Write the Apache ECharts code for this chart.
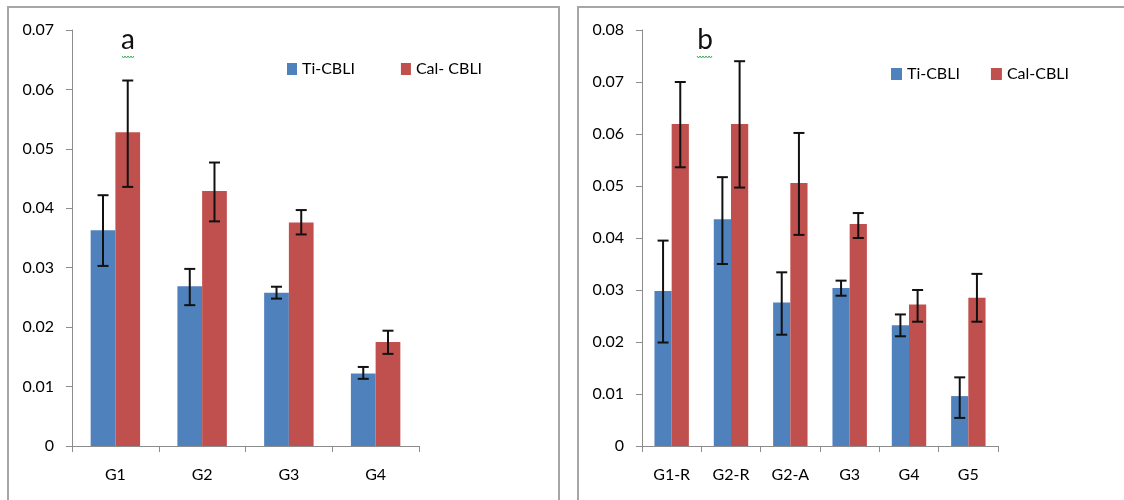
<!DOCTYPE html>
<html>
<head>
<meta charset="utf-8">
<script src="https://cdn.jsdelivr.net/npm/echarts@6/dist/echarts.min.js"></script>
<style>
html,body{margin:0;padding:0;background:#fff;}
#chart{width:1124px;height:500px;}
</style>
</head>
<body>
<div id="chart"></div>
<script>
// ---- Panel a ----
const catsA = ['G1', 'G2', 'G3', 'G4'];
const tiA = [0.0363, 0.0269, 0.0258, 0.0122];
const calA = [0.0528, 0.0429, 0.0376, 0.0175];
const tiA_hi = [0.0422, 0.0298, 0.0268, 0.0133];
const tiA_lo = [0.0303, 0.0237, 0.0248, 0.0113];
const calA_hi = [0.0615, 0.0477, 0.0397, 0.0194];
const calA_lo = [0.0436, 0.0378, 0.0356, 0.0155];
const yTicksA = [0, 0.01, 0.02, 0.03, 0.04, 0.05, 0.06, 0.07];

// ---- Panel b ----
const catsB = ['G1-R', 'G2-R', 'G2-A', 'G3', 'G4', 'G5'];
const tiB = [0.0298, 0.0436, 0.0276, 0.0304, 0.0232, 0.0096];
const calB = [0.0619, 0.0619, 0.0506, 0.0427, 0.0272, 0.0285];
const tiB_hi = [0.0395, 0.0517, 0.0334, 0.0318, 0.0253, 0.0132];
const tiB_lo = [0.0199, 0.0350, 0.0214, 0.0289, 0.0211, 0.0054];
const calB_hi = [0.0700, 0.0740, 0.0602, 0.0448, 0.0300, 0.0331];
const calB_lo = [0.0536, 0.0497, 0.0406, 0.0400, 0.0239, 0.0239];
const yTicksB = [0, 0.01, 0.02, 0.03, 0.04, 0.05, 0.06, 0.07, 0.08];

const legendA = ['Ti-CBLI', 'Cal- CBLI'];
const legendB = ['Ti-CBLI', 'Cal-CBLI'];

const BLUE = '#4F81BD', RED = '#C0504D';
const FONT = 'Lato, "Liberation Sans", sans-serif';
const TXT = '#000';

const chart = echarts.init(document.getElementById('chart'), null, {renderer: 'canvas'});

function yAxisDef(gridIndex, ticks) {
  return {
    type: 'value', gridIndex: gridIndex,
    min: ticks[0], max: ticks[ticks.length - 1], interval: 0.01,
    splitLine: {show: false},
    axisLine: {show: true, lineStyle: {color: '#8c8c8c', width: 1}},
    axisTick: {show: true, length: 6, lineStyle: {color: '#8c8c8c'}},
    axisLabel: {
      fontFamily: FONT, fontSize: 16, color: TXT, margin: 18,
      formatter: v => v === 0 ? '0' : (Math.round(v * 100) / 100).toFixed(2)
    }
  };
}
function xAxisDef(gridIndex, cats) {
  return {
    type: 'category', gridIndex: gridIndex, data: cats,
    axisLine: {show: true, lineStyle: {color: '#8c8c8c', width: 1}},
    axisTick: {show: true, length: 6, alignWithLabel: false, lineStyle: {color: '#8c8c8c'}},
    axisLabel: {fontFamily: FONT, fontSize: 16, color: TXT, margin: 21}
  };
}

function errSeries(name, axisIdx, cats, hi, lo, side, gap) {
  return {
    type: 'custom', name: name, xAxisIndex: axisIdx, yAxisIndex: axisIdx,
    z: 10, silent: true,
    data: cats.map((c, i) => [i, hi[i], lo[i]]),
    encode: {x: 0, y: [1, 2]},
    renderItem: function (params, api) {
      const i = api.value(0);
      const pHi = api.coord([i, api.value(1)]);
      const pLo = api.coord([i, api.value(2)]);
      const band = api.size([1, 0])[0];
      const bw = band * (1 - gap) / 2;
      const x = pHi[0] + side * bw / 2;
      const cap = 5.5;
      const st = {stroke: '#111', lineWidth: 2};
      return {
        type: 'group', children: [
          {type: 'line', shape: {x1: x, y1: pHi[1], x2: x, y2: pLo[1]}, style: st},
          {type: 'line', shape: {x1: x - cap, y1: pHi[1], x2: x + cap, y2: pHi[1]}, style: st},
          {type: 'line', shape: {x1: x - cap, y1: pLo[1], x2: x + cap, y2: pLo[1]}, style: st}
        ]
      };
    }
  };
}

const GAP_A = 0.43, GAP_B = 0.42;

function wavy(x0, x1, y) {
  const pts = [];
  let up = true;
  for (let x = x0; x <= x1; x += 1.5) { pts.push([x, up ? y - 1 : y + 1]); up = !up; }
  return {type: 'polyline', shape: {points: pts}, style: {stroke: '#3cb043', lineWidth: 1, fill: null}, silent: true};
}

const option = {
  backgroundColor: '#fff',
  animation: false,
  grid: [
    {left: 72, right: 705, top: 30, bottom: 54},
    {left: 642, right: 126, top: 30, bottom: 54}
  ],
  legend: [
    {data: legendA, left: 287, top: 61, padding: 0, itemWidth: 10, itemHeight: 12, itemGap: 46, icon: 'rect',
      textStyle: {fontFamily: FONT, fontSize: 16, color: TXT}, selectedMode: false},
    {data: legendB, left: 891, top: 66, padding: 0, itemWidth: 11, itemHeight: 12, itemGap: 31, icon: 'rect',
      textStyle: {fontFamily: FONT, fontSize: 16, color: TXT}, selectedMode: false}
  ],
  xAxis: [xAxisDef(0, catsA), xAxisDef(1, catsB)],
  yAxis: [yAxisDef(0, yTicksA), yAxisDef(1, yTicksB)],
  series: [
    {type: 'bar', name: legendA[0], xAxisIndex: 0, yAxisIndex: 0, data: tiA,
      itemStyle: {color: BLUE}, barGap: '0%', barCategoryGap: (GAP_A * 100) + '%'},
    {type: 'bar', name: legendA[1], xAxisIndex: 0, yAxisIndex: 0, data: calA,
      itemStyle: {color: RED}, barGap: '0%', barCategoryGap: (GAP_A * 100) + '%'},
    {type: 'bar', name: legendB[0], xAxisIndex: 1, yAxisIndex: 1, data: tiB,
      itemStyle: {color: BLUE}, barGap: '0%', barCategoryGap: (GAP_B * 100) + '%'},
    {type: 'bar', name: legendB[1], xAxisIndex: 1, yAxisIndex: 1, data: calB,
      itemStyle: {color: RED}, barGap: '0%', barCategoryGap: (GAP_B * 100) + '%'},
    errSeries('errTiA', 0, catsA, tiA_hi, tiA_lo, -1, GAP_A),
    errSeries('errCalA', 0, catsA, calA_hi, calA_lo, 1, GAP_A),
    errSeries('errTiB', 1, catsB, tiB_hi, tiB_lo, -1, GAP_B),
    errSeries('errCalB', 1, catsB, calB_hi, calB_lo, 1, GAP_B)
  ],
  graphic: [
    {type: 'rect', shape: {x: 8, y: 7, width: 551, height: 600}, style: {fill: null, stroke: '#a6a6a6', lineWidth: 2}, silent: true},
    {type: 'rect', shape: {x: 578, y: 7, width: 600, height: 600}, style: {fill: null, stroke: '#a6a6a6', lineWidth: 2}, silent: true},
    {type: 'text', x: 128, y: 54, style: {text: 'a', font: '28px ' + FONT, fill: '#111', textAlign: 'center', textVerticalAlign: 'bottom'}, silent: true},
    {type: 'text', x: 705, y: 54, style: {text: 'b', font: '28px ' + FONT, fill: '#111', textAlign: 'center', textVerticalAlign: 'bottom'}, silent: true},
    wavy(122, 135, 57),
    wavy(697, 712, 57)
  ]
};
chart.setOption(option);
</script>
</body>
</html>
